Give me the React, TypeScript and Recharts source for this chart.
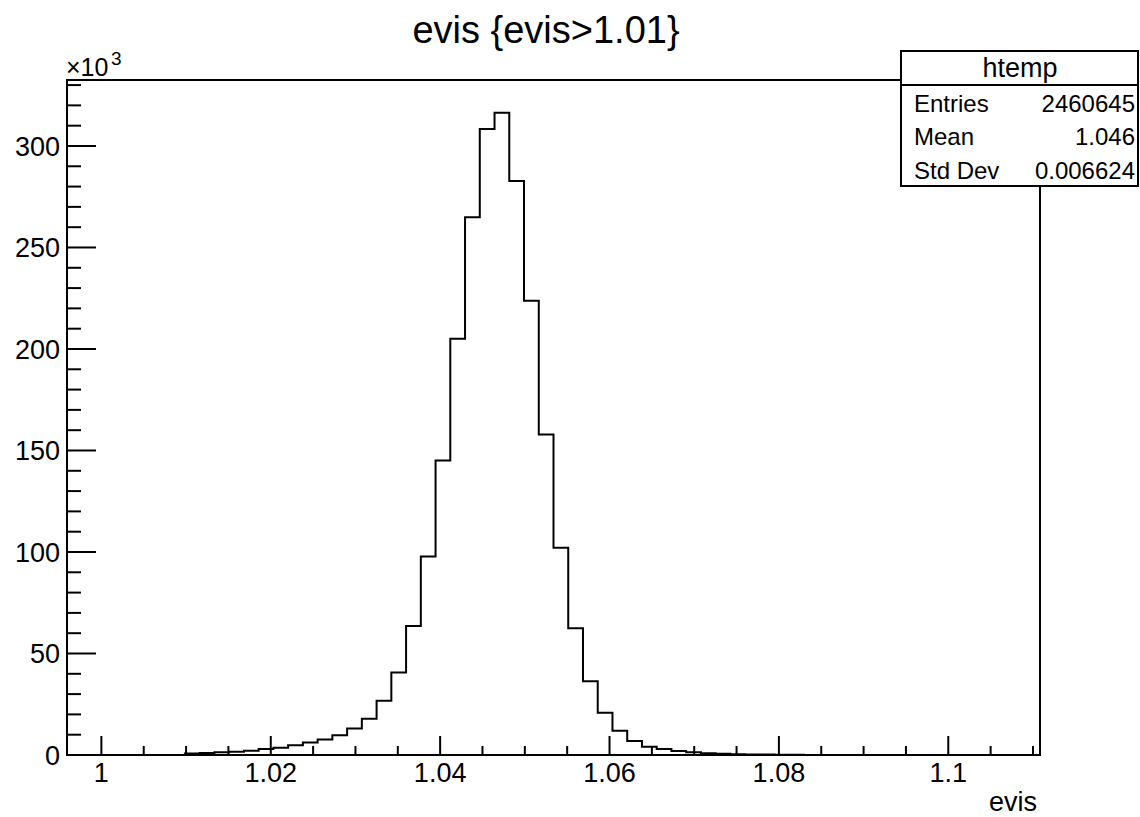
import React from "react";
import { LineChart, Line, XAxis, YAxis, ReferenceArea } from "recharts";

// histogram htemp: 66 bins over [xMin, xMax]
const xMin = 0.99594;
const xMax = 1.11083;

// bin contents, in units of 10^3 entries
const counts = [
  0, 0, 0, 0, 0, 0, 0, 0,
  0.8, 1.0, 1.3, 1.6, 2.1, 2.9, 3.6, 4.8, 6.1, 7.6,
  9.7, 13.0, 17.9, 26.7, 40.7, 63.5, 97.8, 145.1, 205.0, 264.9,
  308.4, 316.4, 282.8, 223.7, 157.9, 102.1, 62.4, 36.3, 20.8, 12.0,
  6.9, 4.1, 2.9, 2.0, 1.3, 0.9, 0.6, 0.4, 0.3, 0.2,
  0.15, 0.1, 0.05, 0.03, 0.02,
  0, 0, 0, 0, 0, 0, 0, 0, 0, 0, 0, 0, 0,
];

const xTicks = [
  1, 1.005, 1.01, 1.015, 1.02, 1.025, 1.03, 1.035, 1.04, 1.045, 1.05, 1.055,
  1.06, 1.065, 1.07, 1.075, 1.08, 1.085, 1.09, 1.095, 1.1, 1.105, 1.11,
];
const xMajor = [1, 1.02, 1.04, 1.06, 1.08, 1.1];

const yTicks = [
  0, 10, 20, 30, 40, 50, 60, 70, 80, 90, 100, 110, 120, 130, 140, 150, 160,
  170, 180, 190, 200, 210, 220, 230, 240, 250, 260, 270, 280, 290, 300, 310,
  320, 330,
];
const yMajor = [0, 50, 100, 150, 200, 250, 300];
const yMax = 332.5;

const stats = [
  ["Entries", "2460645"],
  ["Mean", "1.046"],
  ["Std Dev", "0.006624"],
];

const font = "'Liberation Sans', Arial, Helvetica, sans-serif";

const binW = (xMax - xMin) / counts.length;
const histo = counts.map((c, i) => ({ x: xMin + i * binW, y: c }));
histo.push({ x: xMax, y: counts[counts.length - 1] });

const isMajor = (list: number[], v: number) => list.some((m) => Math.abs(m - v) < 1e-9);

// ticks point inwards, like ROOT; x/y come in at the axis line
function XTick(props: any) {
  const { x, y, payload } = props;
  const major = isMajor(xMajor, payload.value);
  return (
    <g>
      <line x1={x} x2={x} y1={y} y2={y - (major ? 19 : 9)} stroke="#000" strokeWidth={2} />
      {major && (
        <text x={x} y={y + 27} textAnchor="middle" fontSize={27} fontFamily={font} fill="#000">
          {Number(payload.value.toFixed(3)).toString()}
        </text>
      )}
    </g>
  );
}

function YTick(props: any) {
  const { x, y, payload } = props;
  const major = isMajor(yMajor, payload.value);
  return (
    <g>
      <line x1={x} x2={x + (major ? 29 : 14)} y1={y} y2={y} stroke="#000" strokeWidth={2} />
      {major && (
        <text x={x - 7} y={y + 10} textAnchor="end" fontSize={27} fontFamily={font} fill="#000">
          {payload.value}
        </text>
      )}
    </g>
  );
}

export default function App() {
  return (
    <div style={{ position: "absolute", left: 0, top: 0, width: 1140, height: 817, background: "#fff" }}>
      <LineChart
        width={1140}
        height={817}
        data={histo}
        margin={{ top: 80, left: 7, right: 100, bottom: 32 }}
      >
        <XAxis
          type="number"
          dataKey="x"
          domain={[xMin, xMax]}
          ticks={xTicks}
          interval={0}
          allowDataOverflow
          height={30}
          tickSize={0}
          tickMargin={0}
          axisLine={false}
          tickLine={false}
          tick={(p: any) => <XTick {...p} />}
        />
        <YAxis
          type="number"
          domain={[0, yMax]}
          ticks={yTicks}
          interval={0}
          allowDataOverflow
          width={60}
          tickSize={0}
          tickMargin={0}
          axisLine={false}
          tickLine={false}
          tick={(p: any) => <YTick {...p} />}
        />
        <ReferenceArea x1={xMin} x2={xMax} y1={0} y2={yMax} fill="none" stroke="#000" strokeWidth={2} />
        <Line
          type="stepAfter"
          dataKey="y"
          stroke="#000"
          strokeWidth={2}
          dot={false}
          isAnimationActive={false}
        />
      </LineChart>
      <svg
        width={1140}
        height={817}
        style={{ position: "absolute", left: 0, top: 0, pointerEvents: "none" }}
        fontFamily={font}
      >
        <text x={546} y={43} textAnchor="middle" fontSize={38} fill="#000">
          evis {"{evis>1.01}"}
        </text>
        <text x={66} y={76} fontSize={25} fill="#000">
          ×10
        </text>
        <text x={111} y={65} fontSize={19} fill="#000">
          3
        </text>
        <text x={1037} y={811} textAnchor="end" fontSize={27} fill="#000">
          evis
        </text>
        <rect x={901} y={51} width={237} height={135} fill="#fff" stroke="#000" strokeWidth={2} />
        <line x1={901} x2={1138} y1={85} y2={85} stroke="#000" strokeWidth={2} />
        <text x={1020} y={77} textAnchor="middle" fontSize={27} fill="#000">
          htemp
        </text>
        {stats.map(([k, v], i) => (
          <g key={k}>
            <text x={914} y={112 + i * 33.3} fontSize={24} fill="#000">
              {k}
            </text>
            <text x={1135} y={112 + i * 33.3} textAnchor="end" fontSize={24} fill="#000">
              {v}
            </text>
          </g>
        ))}
      </svg>
    </div>
  );
}
